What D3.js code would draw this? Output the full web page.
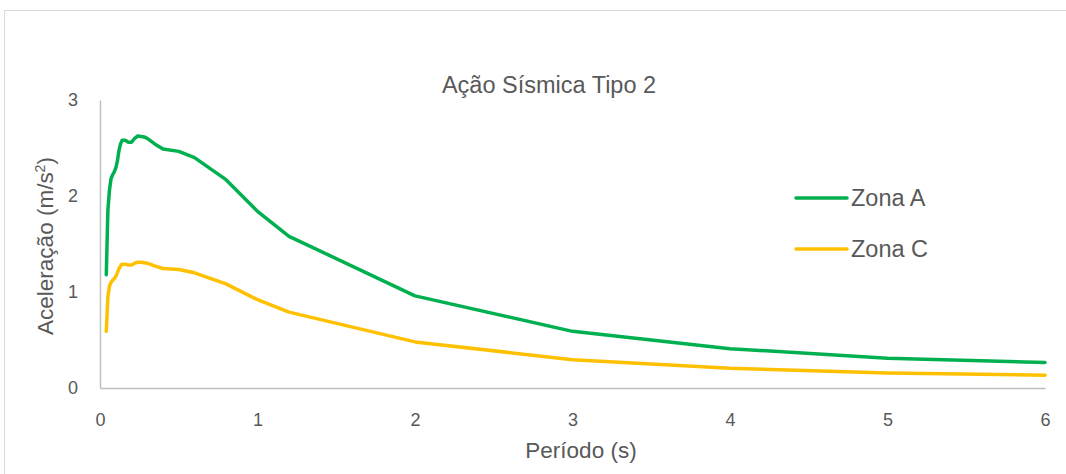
<!DOCTYPE html>
<html>
<head>
<meta charset="utf-8">
<script src="https://cdn.jsdelivr.net/npm/d3@7"></script>
<style>
    body { margin: 0; background: #fff; }
    svg { display: block; font-family: "Liberation Sans", Arial, sans-serif; }
</style>
</head>
<body>
<div id="chart"></div>
<script>
// periods (s)
let periodos = [0.04, 0.05, 0.06, 0.07, 0.08, 0.09, 0.10, 0.11, 0.12, 0.13, 0.14, 0.16, 0.18, 0.20,
    0.22, 0.24, 0.26, 0.28, 0.30, 0.35, 0.40, 0.50, 0.60, 0.80, 1.00, 1.20, 2.00, 3.00, 4.00, 5.00, 6.00];

// acceleration (m/s2)
let zonaA = [1.18, 1.85, 2.06, 2.18, 2.22, 2.25, 2.29, 2.36, 2.47, 2.54, 2.58, 2.58, 2.56, 2.56,
    2.60, 2.625, 2.62, 2.615, 2.60, 2.54, 2.49, 2.465, 2.40, 2.17, 1.84, 1.58, 0.96, 0.59, 0.41, 0.31, 0.265];

let zonaC = [0.59, 0.95, 1.06, 1.10, 1.12, 1.14, 1.16, 1.20, 1.24, 1.27, 1.29, 1.29, 1.28, 1.28,
    1.30, 1.31, 1.31, 1.305, 1.30, 1.27, 1.245, 1.235, 1.20, 1.085, 0.92, 0.79, 0.48, 0.295, 0.205, 0.155, 0.133];

let seriesNames = ["Zona A", "Zona C"];
let colors = ["#00B050", "#FFC000"];
let xTicks = [0, 1, 2, 3, 4, 5, 6];
let yTicks = [0, 1, 2, 3];

let W = 1066, H = 474;
let margin = { top: 100, right: 21, bottom: 86, left: 100 };
let width = W - margin.left - margin.right;
let height = H - margin.top - margin.bottom;

let svg = d3.select("#chart").append("svg")
    .attr("width", W)
    .attr("height", H);

// chart area border
svg.append("rect")
    .attr("x", 4.5)
    .attr("y", 10.5)
    .attr("width", 1200)
    .attr("height", 600)
    .attr("fill", "none")
    .attr("stroke", "#d9d9d9");

let g = svg.append("g")
    .attr("transform", `translate(${margin.left}, ${margin.top})`);

let x = d3.scaleLinear().domain([0, 6]).range([0, width]);
let y = d3.scaleLinear().domain([0, 3]).range([height, 0]);

// axes
let xAxis = d3.axisBottom(x).tickValues(xTicks).tickSize(0).tickPadding(25).tickFormat(d3.format("d"));
let yAxis = d3.axisLeft(y).tickValues(yTicks).tickSize(0).tickPadding(22).tickFormat(d3.format("d"));

let gx = g.append("g")
    .attr("transform", `translate(0, ${height})`)
    .call(xAxis);
let gy = g.append("g").call(yAxis);

[gx, gy].forEach(function(a){
    a.select(".domain").attr("stroke", "#bfbfbf").attr("stroke-width", 1.5);
    a.selectAll("text")
        .attr("fill", "#595959")
        .style("font-size", "18px")
        .style("font-family", "'Liberation Sans', Arial, sans-serif");
});

// lines
let allSeries = [zonaA, zonaC];
let line = d3.line()
    .x(d => x(d[0]))
    .y(d => y(d[1]));

allSeries.forEach(function(vals, i){
    g.append("path")
        .datum(periodos.map((p, j) => [p, vals[j]]))
        .attr("fill", "none")
        .attr("stroke", colors[i])
        .attr("stroke-width", 3.5)
        .attr("stroke-linejoin", "round")
        .attr("stroke-linecap", "round")
        .attr("d", line);
});

// title
svg.append("text")
    .attr("x", 549)
    .attr("y", 93)
    .attr("text-anchor", "middle")
    .attr("fill", "#595959")
    .style("font-size", "23.5px")
    .text("Ação Sísmica Tipo 2");

// axis titles
svg.append("text")
    .attr("x", 581)
    .attr("y", 458)
    .attr("text-anchor", "middle")
    .attr("fill", "#595959")
    .style("font-size", "22.5px")
    .text("Período (s)");

let yTitle = svg.append("text")
    .attr("transform", "translate(53, 246) rotate(-90)")
    .attr("text-anchor", "middle")
    .attr("fill", "#595959")
    .style("font-size", "22.5px");
yTitle.append("tspan").text("Aceleração (m/s");
yTitle.append("tspan").attr("dy", -8).style("font-size", "14px").text("2");
yTitle.append("tspan").attr("dy", 8).text(")");

// legend
let legend = svg.append("g").attr("class", "legend");
seriesNames.forEach(function(name, i){
    let ly = 198 + i * 51;
    legend.append("line")
        .attr("x1", 796).attr("x2", 847)
        .attr("y1", ly).attr("y2", ly)
        .attr("stroke", colors[i])
        .attr("stroke-width", 3.5)
        .attr("stroke-linecap", "round");
    legend.append("text")
        .attr("x", 851)
        .attr("y", ly + 8)
        .attr("fill", "#595959")
        .style("font-size", "23.5px")
        .text(name);
});
</script>
</body>
</html>
